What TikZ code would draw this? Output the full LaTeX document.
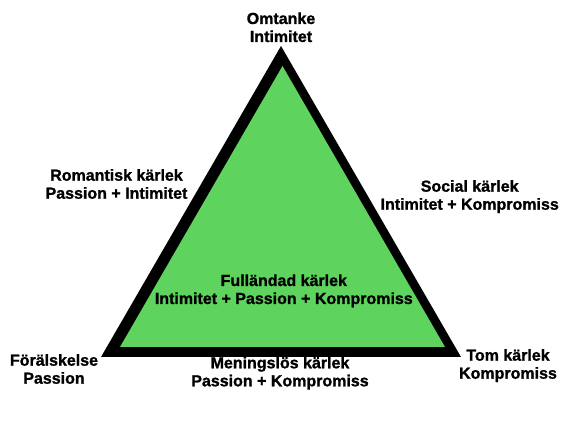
\documentclass[tikz,border=0pt]{standalone}
\usepackage{fontspec}
\setmainfont{Liberation Sans}
\newfontfamily\heavyfont{Liberation Sans Bold}[FakeBold=1.2]
\definecolor{tgreen}{RGB}{94,211,94}
\begin{document}
\begin{tikzpicture}[x=1pt,y=1pt,
  lbl/.style={align=center,anchor=base,inner sep=0pt,font=\heavyfont\fontsize{16}{18}\selectfont}]
\useasboundingbox (0,0) rectangle (571,425);
\fill[white] (0,0) rectangle (571,425);
\fill[black] (101,68) -- (461,68) -- (281,379) -- cycle;
\fill[tgreen] (120,78) -- (445,78) -- (282.5,359) -- cycle;
\node[lbl] (top) at (281,383) {Omtanke\\Intimitet};
\node[lbl] (rom) at (116.5,226.3) {Romantisk kärlek\\Passion + Intimitet};
\node[lbl] (soc) at (469.7,215.3) {Social kärlek\\Intimitet + Kompromiss};
\node[lbl] (ful) at (283.8,121) {Fulländad kärlek\\Intimitet + Passion + Kompromiss};
\node[lbl] (for) at (54,41.3) {Förälskelse\\Passion};
\node[lbl] (tom) at (508,46.3) {Tom kärlek\\Kompromiss};
\node[lbl] (men) at (280,38.7) {Meningslös kärlek\\Passion + Kompromiss};
\end{tikzpicture}
\end{document}
